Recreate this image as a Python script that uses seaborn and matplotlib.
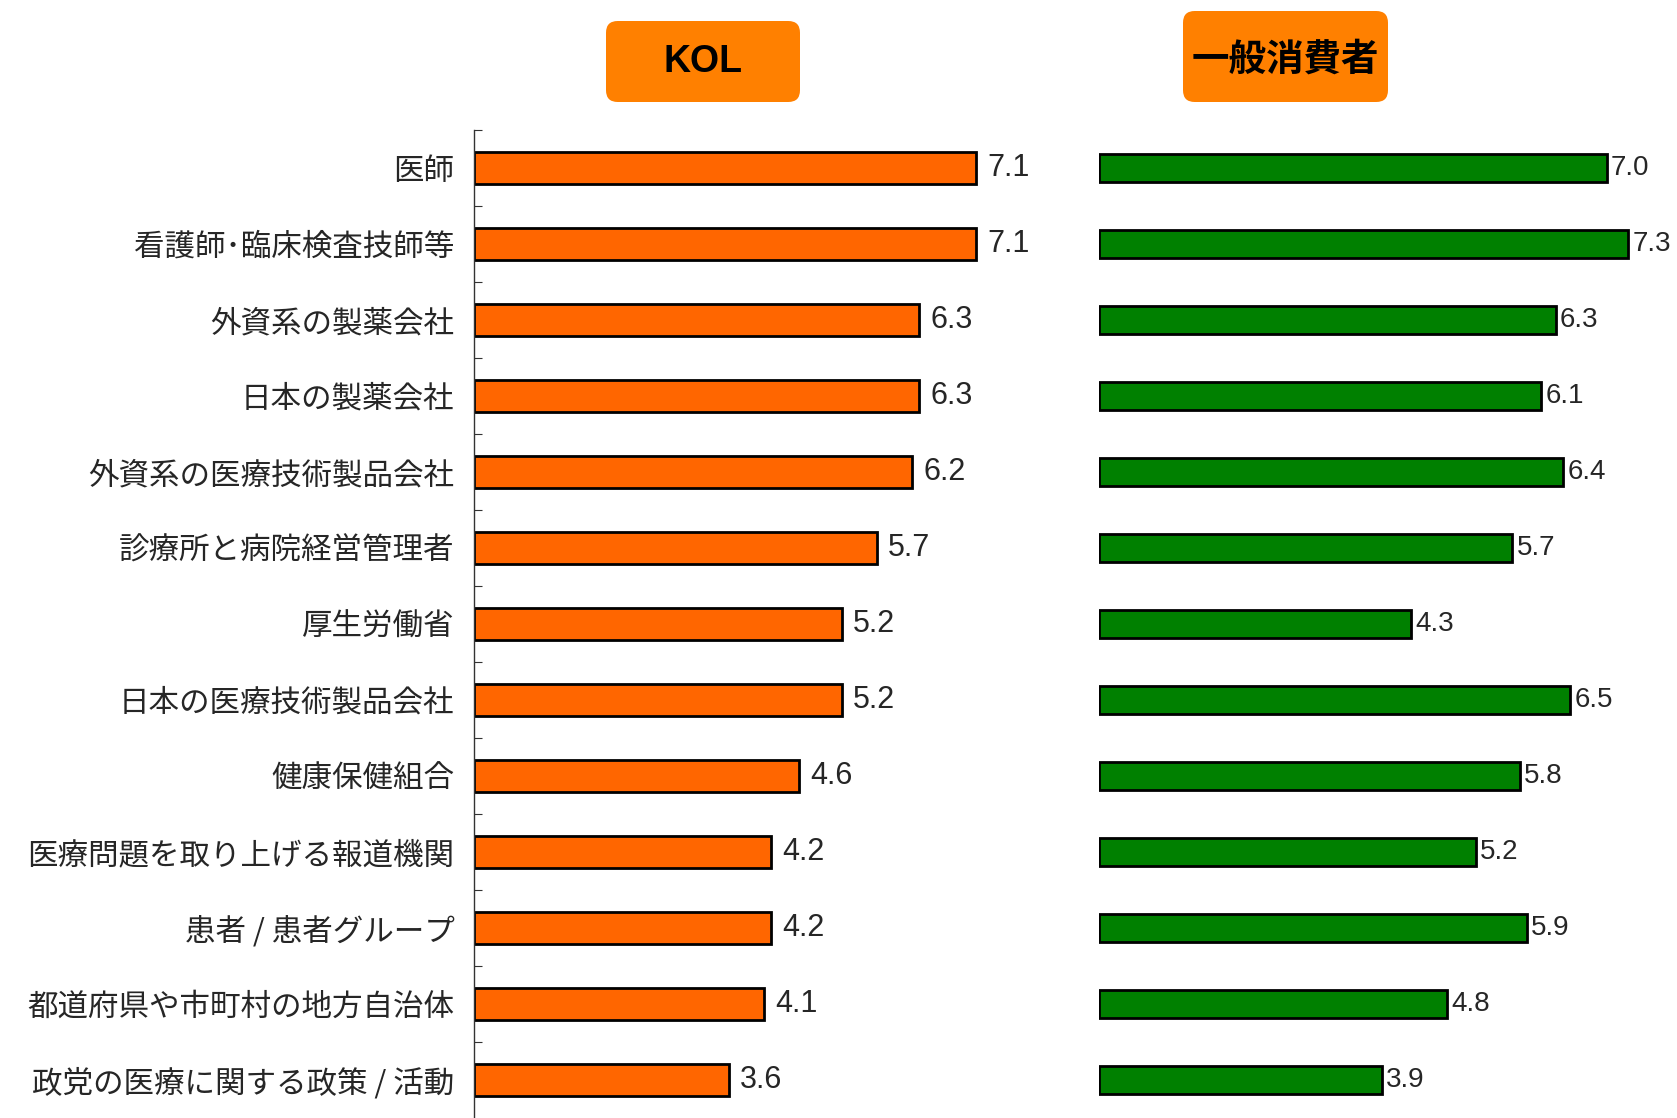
import matplotlib
matplotlib.use("Agg")
import matplotlib.pyplot as plt
from matplotlib.patches import FancyBboxPatch
import pandas as pd
import seaborn as sns

# categories, top to bottom
categories = [
    "医師",
    "看護師･臨床検査技師等",
    "外資系の製薬会社",
    "日本の製薬会社",
    "外資系の医療技術製品会社",
    "診療所と病院経営管理者",
    "厚生労働省",
    "日本の医療技術製品会社",
    "健康保健組合",
    "医療問題を取り上げる報道機関",
    "患者 / 患者グループ",
    "都道府県や市町村の地方自治体",
    "政党の医療に関する政策 / 活動",
]
kol_values = [7.1, 7.1, 6.3, 6.3, 6.2, 5.7, 5.2, 5.2, 4.6, 4.2, 4.2, 4.1, 3.6]
consumer_values = [7.0, 7.3, 6.3, 6.1, 6.4, 5.7, 4.3, 6.5, 5.8, 5.2, 5.9, 4.8, 3.9]
panel_titles = ["KOL", "一般消費者"]

df = pd.DataFrame({"category": categories, "KOL": kol_values, "consumer": consumer_values})

sns.set_style("white")
plt.rcParams["font.family"] = ["Noto Sans CJK JP", "DejaVu Sans"]

W, H = 1677, 1118
fig = plt.figure(figsize=(W / 100, H / 100), dpi=100)

n = len(categories)
ax_bottom = 0.0
ax_height = (H - 130) / H

# left panel (KOL)
ax1 = fig.add_axes([474 / W, ax_bottom, 0.35, ax_height])
sns.barplot(data=df, x="KOL", y="category", orient="h", ax=ax1, color="#FF6600",
            edgecolor="black", linewidth=2.0, width=0.42, saturation=1)
ax1.set_xlim(0, 0.35 * W / 70.7)
ax1.set_ylim(n - 0.5, -0.5)
ax1.bar_label(ax1.containers[0], fmt="%.1f", padding=8, fontsize=22,
              family=["Liberation Sans", "DejaVu Sans"])
ax1.set_xlabel("")
ax1.set_ylabel("")
ax1.set_xticks([])
for s in ["top", "right", "bottom"]:
    ax1.spines[s].set_visible(False)
ax1.spines["left"].set_color("#333333")
ax1.spines["left"].set_linewidth(1.0)
ax1.tick_params(axis="y", which="major", length=0, pad=14, labelsize=22)
ax1.set_yticks([i - 0.5 for i in range(n)], minor=True)
ax1.tick_params(axis="y", which="minor", left=True, direction="in", length=6,
                width=0.8, color="#333333")

# right panel (consumers)
ax2 = fig.add_axes([1099 / W, ax_bottom, (W - 1099) / W, ax_height])
sns.barplot(data=df, x="consumer", y="category", orient="h", ax=ax2, color="#008000",
            edgecolor="black", linewidth=2.0, width=0.38, saturation=1)
ax2.set_xlim(0, (W - 1099) / 72.5)
ax2.set_ylim(n - 0.5, -0.5)
ax2.bar_label(ax2.containers[0], fmt="%.1f", padding=3, fontsize=20,
              family=["Liberation Sans Narrow", "Liberation Sans", "DejaVu Sans"])
ax2.set_xlabel("")
ax2.set_ylabel("")
ax2.set_xticks([])
ax2.set_yticks([])
for s in ["top", "right", "bottom", "left"]:
    ax2.spines[s].set_visible(False)

# panel title boxes
boxes = [
    (606, 21, 194, 81, 703, 62),
    (1183, 11, 205, 91, 1285, 59),
]
for title, (bx, by, bw, bh, tx, ty) in zip(panel_titles, boxes):
    patch = FancyBboxPatch((bx / W, 1 - (by + bh) / H), bw / W, bh / H,
                           boxstyle="round,pad=0,rounding_size=0.007",
                           mutation_aspect=W / H, transform=fig.transFigure,
                           facecolor="#FF8000", edgecolor="none")
    fig.patches.append(patch)
    fig.text(tx / W, 1 - ty / H, title, ha="center", va="center", fontsize=27,
             fontweight="bold", color="black",
             family=["Liberation Sans", "Noto Sans CJK JP"] if title == "KOL" else ["Noto Sans CJK JP", "DejaVu Sans"])

fig.savefig("out.png", dpi=100)
plt.close(fig)
